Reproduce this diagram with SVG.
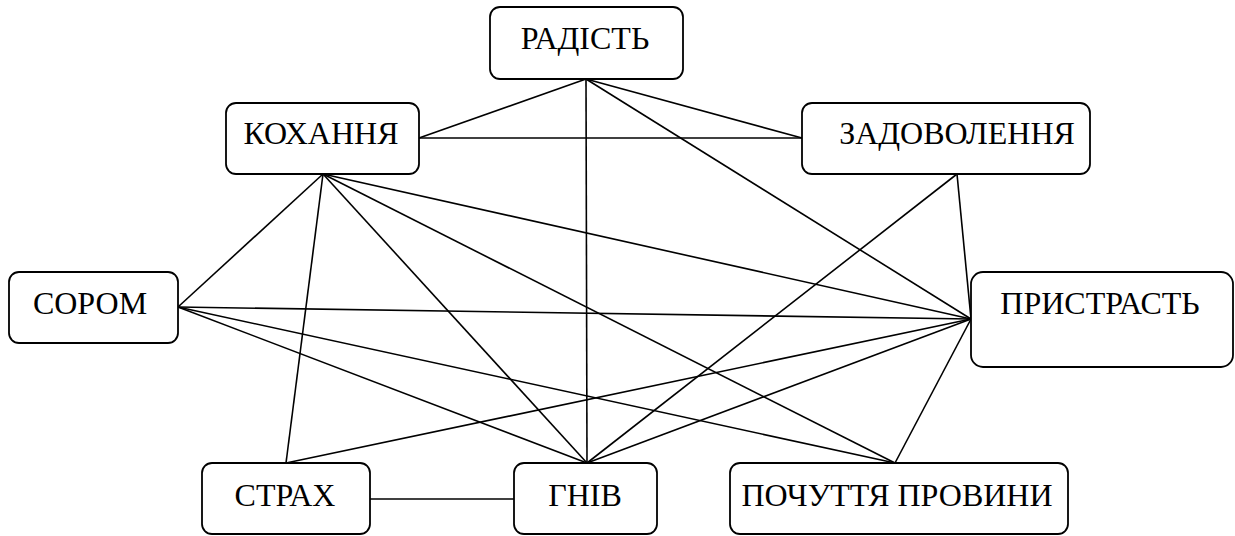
<svg xmlns="http://www.w3.org/2000/svg" width="1235" height="536" viewBox="0 0 1235 536">
<style>
.box{fill:#fff;stroke:#000;stroke-width:1.8}
.lbl{font-family:"Liberation Serif","Times New Roman",serif;font-size:32px;fill:#000;text-anchor:middle}
.edge{stroke:#000;stroke-width:1.6;fill:none}
</style>
<rect width="1235" height="536" fill="#fff"/>
<g id="connectors">
<line class="edge" x1="586" y1="79" x2="419" y2="138"/>
<line class="edge" x1="586" y1="79" x2="802" y2="138"/>
<line class="edge" x1="586" y1="79" x2="587" y2="463"/>
<line class="edge" x1="586" y1="79" x2="971" y2="319"/>
<line class="edge" x1="419" y1="138" x2="802" y2="138"/>
<line class="edge" x1="323" y1="174" x2="178" y2="307"/>
<line class="edge" x1="323" y1="174" x2="286" y2="463"/>
<line class="edge" x1="323" y1="174" x2="587" y2="463"/>
<line class="edge" x1="323" y1="174" x2="895" y2="463"/>
<line class="edge" x1="323" y1="174" x2="971" y2="319"/>
<line class="edge" x1="178" y1="307" x2="971" y2="319"/>
<line class="edge" x1="178" y1="307" x2="587" y2="463"/>
<line class="edge" x1="178" y1="307" x2="895" y2="463"/>
<line class="edge" x1="957" y1="174" x2="971" y2="319"/>
<line class="edge" x1="957" y1="174" x2="587" y2="463"/>
<line class="edge" x1="971" y1="319" x2="286" y2="463"/>
<line class="edge" x1="971" y1="319" x2="587" y2="463"/>
<line class="edge" x1="971" y1="319" x2="895" y2="463"/>
<line class="edge" x1="370" y1="499" x2="514" y2="499"/>
</g>
<g id="radist"><rect class="box" x="490" y="7" width="193" height="72" rx="10"/><text class="lbl" x="585" y="49">РАДІСТЬ</text></g>
<g id="kokhannia"><rect class="box" x="226" y="103" width="193" height="71" rx="10"/><text class="lbl" x="321" y="144">КОХАННЯ</text></g>
<g id="zadovolennia"><rect class="box" x="802" y="103" width="288" height="71" rx="10"/><text class="lbl" x="957" y="144">ЗАДОВОЛЕННЯ</text></g>
<g id="sorom"><rect class="box" x="9" y="272" width="169" height="71" rx="10"/><text class="lbl" x="90" y="314">СОРОМ</text></g>
<g id="prystrast"><rect class="box" x="971" y="272" width="262" height="95" rx="12"/><text class="lbl" x="1100" y="314">ПРИСТРАСТЬ</text></g>
<g id="strakh"><rect class="box" x="202" y="463" width="168" height="71" rx="10"/><text class="lbl" x="285" y="506">СТРАХ</text></g>
<g id="hniv"><rect class="box" x="514" y="463" width="143" height="71" rx="10"/><text class="lbl" x="585" y="506">ГНІВ</text></g>
<g id="pochuttia"><rect class="box" x="730" y="463" width="338" height="71" rx="10"/><text class="lbl" x="897" y="506">ПОЧУТТЯ ПРОВИНИ</text></g>
</svg>
